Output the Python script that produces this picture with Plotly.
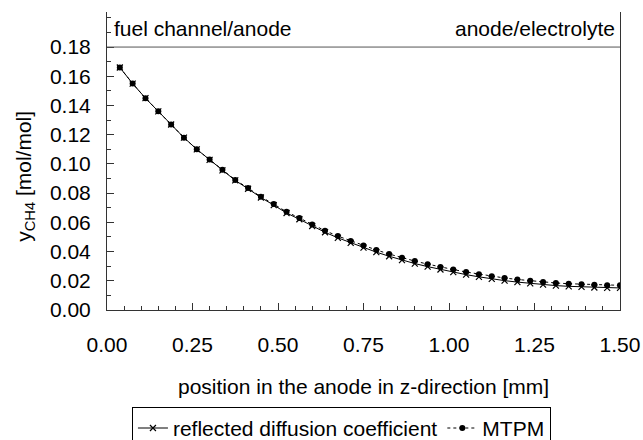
import plotly.graph_objects as go

# positions in the anode [mm]
z_pos = [0.0375, 0.075, 0.1125, 0.15, 0.1875, 0.225, 0.2625, 0.3, 0.3375, 0.375,
         0.4125, 0.45, 0.4875, 0.525, 0.5625, 0.6, 0.6375, 0.675, 0.7125, 0.75,
         0.7875, 0.825, 0.8625, 0.9, 0.9375, 0.975, 1.0125, 1.05, 1.0875, 1.125,
         1.1625, 1.2, 1.2375, 1.275, 1.3125, 1.35, 1.3875, 1.425, 1.4625, 1.5]

reflected = [0.166, 0.155, 0.145, 0.136, 0.127, 0.118, 0.110, 0.1028, 0.0956, 0.0887,
             0.0830, 0.0770, 0.0718, 0.0664, 0.0621, 0.0575, 0.0532, 0.0494, 0.0460, 0.0427,
             0.0396, 0.0368, 0.0341, 0.0318, 0.0297, 0.0277, 0.0259, 0.0242, 0.0227, 0.0213,
             0.0201, 0.0191, 0.0182, 0.0174, 0.0167, 0.0162, 0.0158, 0.0154, 0.0152, 0.0151]

mtpm = [0.166, 0.155, 0.145, 0.136, 0.127, 0.118, 0.110, 0.103, 0.096, 0.089,
        0.0835, 0.0775, 0.0725, 0.0672, 0.0630, 0.0585, 0.0543, 0.0506, 0.0473, 0.0441,
        0.0411, 0.0383, 0.0357, 0.0335, 0.0314, 0.0294, 0.0277, 0.0260, 0.0245, 0.0231,
        0.0219, 0.0209, 0.0200, 0.0192, 0.0185, 0.0180, 0.0176, 0.0172, 0.0170, 0.0169]

x_ticks = [0.0, 0.25, 0.5, 0.75, 1.0, 1.25, 1.5]
y_ticks = [0.0, 0.02, 0.04, 0.06, 0.08, 0.10, 0.12, 0.14, 0.16, 0.18]

FONT = "Liberation Sans, Arial, Helvetica, sans-serif"
FS = 21
AX = "#333333"

fig = go.Figure()
fig.add_trace(go.Scatter(
    x=z_pos, y=reflected, name="reflected diffusion coefficient",
    mode="lines+markers",
    line=dict(color="black", width=1),
    marker=dict(symbol="x-thin", size=6, line=dict(color="black", width=1.2), color="black"),
))
fig.add_trace(go.Scatter(
    x=z_pos, y=mtpm, name="MTPM",
    mode="lines+markers",
    line=dict(color="black", width=1, dash="dot"),
    marker=dict(symbol="circle", size=6, color="black"),
))

# boundary line at top of the data area
fig.add_shape(type="line", xref="x", yref="y", x0=0, x1=1.5, y0=0.18, y1=0.18,
              line=dict(color="#555555", width=1))

fig.add_annotation(text="fuel channel/anode", xref="x", yref="y", x=0.015, y=0.193,
                   xanchor="left", yanchor="middle", showarrow=False,
                   font=dict(family=FONT, size=FS, color="black"))
fig.add_annotation(text="anode/electrolyte", xref="x", yref="y", x=1.49, y=0.193,
                   xanchor="right", yanchor="middle", showarrow=False,
                   font=dict(family=FONT, size=FS, color="black"))

fig.add_annotation(text="y<sub>CH4</sub> [mol/mol]", xref="paper", yref="paper",
                   x=-0.16, y=0.45, textangle=-90, showarrow=False,
                   xanchor="center", yanchor="middle",
                   font=dict(family=FONT, size=FS, color="black"))
fig.add_annotation(text="position in the anode in z-direction [mm]", xref="paper", yref="paper",
                   x=0.5, y=-0.258, showarrow=False, xanchor="center", yanchor="middle",
                   font=dict(family=FONT, size=FS, color="black"))

fig.update_xaxes(
    range=[0, 1.5], tickvals=x_ticks, tickformat=".2f",
    showline=True, linecolor=AX, linewidth=1, mirror=False,
    ticks="inside", ticklen=7, tickcolor=AX, tickwidth=1,
    minor=dict(dtick=0.05, ticks="inside", ticklen=4, tickcolor=AX),
    showgrid=False, zeroline=False, ticklabelstandoff=16,
    tickfont=dict(family=FONT, size=FS, color="black"),
)
fig.update_yaxes(
    range=[0, 0.204], tickvals=y_ticks, tickformat=".2f",
    showline=True, linecolor=AX, linewidth=1, mirror=True,
    ticks="inside", ticklen=7, tickcolor=AX, tickwidth=1,
    minor=dict(dtick=0.01, ticks="inside", ticklen=4, tickcolor=AX),
    showgrid=False, zeroline=False, ticklabelstandoff=11,
    tickfont=dict(family=FONT, size=FS, color="black"),
)

fig.update_layout(
    width=643, height=440,
    margin=dict(l=107, r=23, t=12, b=130, autoexpand=False),
    paper_bgcolor="white", plot_bgcolor="white",
    font=dict(family=FONT, size=FS, color="black"),
    showlegend=True,
    legend=dict(orientation="h", x=0.457, xanchor="center", y=-0.325, yanchor="top",
                bordercolor="black", borderwidth=1, bgcolor="white",
                font=dict(family=FONT, size=FS, color="black"),
                itemwidth=30, tracegroupgap=0),
)

fig.write_html("out.html")
